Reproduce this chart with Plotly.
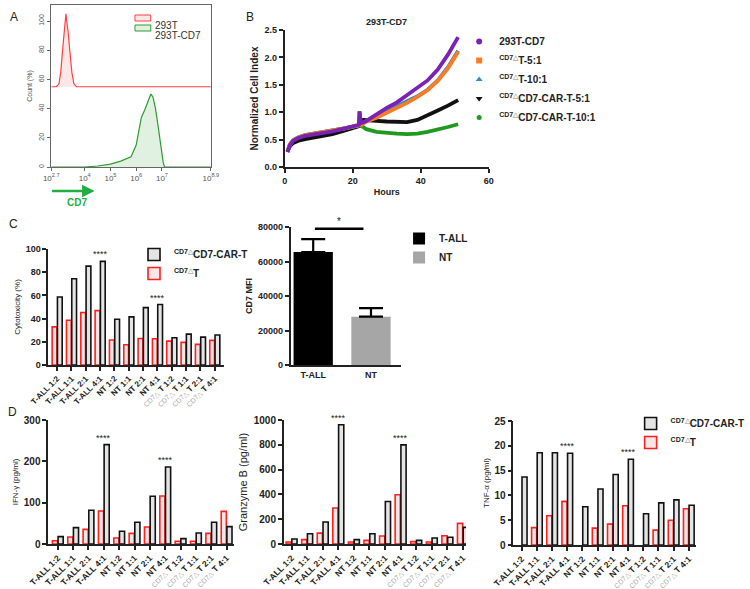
import plotly.graph_objects as go

FONT = "Liberation Sans, Arial, sans-serif"

# ---------------- Panel A: CD7 flow histogram ----------------
hist_293t_log = [2.7, 2.9, 3.0, 3.07, 3.13, 3.2, 3.24, 3.27, 3.3, 3.36, 3.42, 3.5, 3.58, 3.68, 8.9]
hist_293t_count = [55, 55, 57, 65, 78, 95, 102, 105, 100, 92, 80, 65, 57, 55, 55]
hist_cd7_log = [2.7, 4.0, 4.5, 5.0, 5.4, 5.8, 6.0, 6.1, 6.2, 6.33, 6.45, 6.57, 6.65, 6.75, 6.85, 6.95, 7.05, 7.1, 8.9]
hist_cd7_count = [0, 0, 0.7, 2, 4, 7, 15, 24, 34, 39, 44, 50, 48, 40, 28, 14, 3, 0, 0]
a_xtick_exp = [2.7, 4, 5, 6, 7, 8.9]
a_xtick_text = ["10<sup>2.7</sup>", "10<sup>4</sup>", "10<sup>5</sup>", "10<sup>6</sup>",
                "10<sup>7</sup>", "10<sup>8.9</sup>"]
a_ytick = [0, 20, 40, 60, 80, 100]

# ---------------- Panel B: real-time cell index ----------------
hours = [0.8, 1.5, 2.5, 4, 6, 10, 14, 18, 21.8, 22.0, 22.4, 24, 27, 30, 33, 36, 39, 42, 45, 48, 51]
ci_293t_cd7 = [0.27, 0.40, 0.48, 0.53, 0.57, 0.61, 0.65, 0.71, 0.77, 1.01, 0.80, 0.84, 0.97, 1.08, 1.18, 1.32, 1.45, 1.58, 1.78, 2.05, 2.37]
ci_t_5 = [0.28, 0.41, 0.49, 0.54, 0.58, 0.62, 0.66, 0.71, 0.76, 0.77, 0.76, 0.83, 0.90, 0.99, 1.08, 1.17, 1.28, 1.40, 1.57, 1.80, 2.10]
ci_t_10 = [0.28, 0.41, 0.49, 0.54, 0.58, 0.62, 0.66, 0.71, 0.76, 0.77, 0.77, 0.84, 0.93, 1.02, 1.11, 1.19, 1.29, 1.41, 1.58, 1.82, 2.12]
ci_car_5 = [0.28, 0.38, 0.44, 0.48, 0.51, 0.55, 0.60, 0.67, 0.73, 0.75, 0.86, 0.85, 0.84, 0.83, 0.83, 0.82, 0.86, 0.94, 1.03, 1.12, 1.22]
ci_car_10 = [0.28, 0.41, 0.49, 0.54, 0.58, 0.62, 0.66, 0.71, 0.76, 1.02, 0.76, 0.69, 0.64, 0.62, 0.61, 0.60, 0.61, 0.64, 0.68, 0.73, 0.78]
b_names = ["293T-CD7", "T-5:1", "T-10:1", "CD7-CAR-T-5:1", "CD7-CAR-T-10:1"]

# ---------------- Panels C / D: co-culture assays ----------------
ratio_cats = ["T-ALL 1:2", "T-ALL 1:1", "T-ALL 2:1", "T-ALL 4:1",
              "NT 1:2", "NT 1:1", "NT 2:1", "NT 4:1",
              "CD7△ T 1:2", "CD7△ T 1:1", "CD7△ T 2:1", "CD7△ T 4:1"]
cyto_car = [58.6, 74.4, 85.2, 89.3, 39.5, 41.5, 49.5, 52.1, 23.5, 26.6, 24.0, 25.8]
cyto_t = [32.9, 38.6, 45.2, 46.9, 21.5, 17.5, 22.9, 22.6, 20.6, 19.5, 17.8, 21.2]
mfi_groups = ["T-ALL", "NT"]
mfi_mean = [65500, 28000]
mfi_sd = [7500, 5000]
ifn_car = [17.8, 39.5, 81.5, 240.5, 30.7, 52.5, 115.4, 186.4, 12.9, 26.6, 52.5, 42.0]
ifn_t = [8.0, 17.0, 35.5, 80.0, 14.5, 25.8, 41.2, 116.0, 6.5, 6.5, 25.8, 79.0]
gzmb_car = [40, 83, 177, 962, 35, 83, 343, 799, 29, 48, 54, 134]
gzmb_t = [16, 35, 88, 290, 16, 29, 64, 397, 19, 16, 67, 166]
tnf_car = [13.7, 18.6, 18.6, 18.5, 7.7, 11.3, 14.2, 17.3, 6.3, 8.5, 9.1, 8.0]
tnf_t = [None, 3.5, 5.9, 8.8, None, 3.4, 4.2, 7.9, None, 3.0, 5.0, 7.3]
star_cats = ["T-ALL 4:1", "NT 4:1"]

# ---------------- styles ----------------
RED = "#ff1f1f"
T_FILL = "#f7e6e6"
CAR_FILL = "#e4e4e4"
B_COLORS = ["#7b22b4", "#ff7a21", "#2d8fc9", "#111111", "#1f9a1f"]
B_SYMBOLS = ["circle", "square", "triangle-up", "triangle-down", "circle"]
SUP = "<sup>CD7<span style='color:#b0b0b0'>△</span></sup>"
GRAY_CD7 = "<span style='color:#a8a8a8;font-weight:normal;font-size:7px'>CD7△</span>"


def tick_html(c):
    return c.replace("CD7△", GRAY_CD7)


fig = go.Figure()

# Panel A
fig.add_trace(go.Scatter(x=hist_293t_log, y=hist_293t_count, mode="lines",
                         line=dict(color="#ff4040", width=1.2), fill="toself",
                         fillcolor="rgba(255,120,120,0.18)", xaxis="x", yaxis="y",
                         showlegend=False, hoverinfo="skip"))
fig.add_trace(go.Scatter(x=hist_cd7_log, y=hist_cd7_count, mode="lines",
                         line=dict(color="#2f9a2f", width=1.2), fill="tozeroy",
                         fillcolor="rgba(90,180,90,0.18)", xaxis="x", yaxis="y",
                         showlegend=False, hoverinfo="skip"))

# Panel B
b_series = [ci_293t_cd7, ci_t_5, ci_t_10, ci_car_5, ci_car_10]
for idx in [3, 4, 2, 1, 0]:
    fig.add_trace(go.Scatter(x=hours, y=b_series[idx], mode="lines",
                             line=dict(color=B_COLORS[idx], width=3.8),
                             xaxis="x2", yaxis="y2", showlegend=False))
for idx, nm in enumerate(b_names):
    label = nm if idx == 0 else SUP + nm
    fig.add_trace(go.Scatter(x=[None], y=[None], mode="markers", name=label,
                             marker=dict(symbol=B_SYMBOLS[idx], color=B_COLORS[idx],
                                         size=6 if idx != 4 else 5),
                             xaxis="x2", yaxis="y2", legend="legend2"))


def pair(xa, ya, car_vals, t_vals, legend_name=None):
    show = legend_name is not None
    fig.add_trace(go.Bar(x=ratio_cats, y=t_vals, name=SUP + "T",
                         marker=dict(color=T_FILL, line=dict(color=RED, width=1.6)),
                         xaxis=xa, yaxis=ya, showlegend=show,
                         legend=legend_name or "legend", legendrank=2))
    fig.add_trace(go.Bar(x=ratio_cats, y=car_vals, name=SUP + "CD7-CAR-T",
                         marker=dict(color=CAR_FILL, line=dict(color="#111", width=1.6)),
                         xaxis=xa, yaxis=ya, showlegend=show,
                         legend=legend_name or "legend", legendrank=1))


pair("x3", "y3", cyto_car, cyto_t, "legend3")

# Panel C right: MFI
fig.add_trace(go.Bar(x=[mfi_groups[0]], y=[mfi_mean[0]], name="T-ALL",
                     marker=dict(color="#000000", line=dict(width=0)),
                     error_y=dict(type="data", array=[mfi_sd[0]], arrayminus=[0],
                                  symmetric=False, color="#000", thickness=2.2, width=12),
                     offsetgroup="mfi", width=0.68, xaxis="x4", yaxis="y4", legend="legend4"))
fig.add_trace(go.Bar(x=[mfi_groups[1]], y=[mfi_mean[1]], name="NT",
                     marker=dict(color="#a6a6a6", line=dict(width=0)),
                     error_y=dict(type="data", array=[mfi_sd[1]], arrayminus=[0],
                                  symmetric=False, color="#000", thickness=2.2, width=12),
                     offsetgroup="mfi", width=0.68, xaxis="x4", yaxis="y4", legend="legend4"))

pair("x5", "y5", ifn_car, ifn_t)
pair("x6", "y6", gzmb_car, gzmb_t)
pair("x7", "y7", tnf_car, tnf_t, "legend5")


# ---------------- axes ----------------
def ax(domain, anchor, **kw):
    d = dict(domain=domain, anchor=anchor, showline=True, linecolor="#222", linewidth=1.6,
             ticks="outside", ticklen=4, tickwidth=1.5, tickcolor="#222", showgrid=False,
             zeroline=False, fixedrange=True,
             tickfont=dict(family=FONT, size=9, color="#222", weight="bold"))
    d.update(kw)
    return d


def py(top, bottom):
    return [1 - bottom / 589, 1 - top / 589]


def px(left, right):
    return [left / 750, right / 750]


CAT_TICKFONT = dict(family=FONT, size=8, color="#222", weight="bold")
D_TICKFONT = dict(family=FONT, size=8.5, color="#222", weight="bold")

lay = dict(
    width=750, height=589, margin=dict(l=0, r=0, t=0, b=0),
    template="none", paper_bgcolor="white", plot_bgcolor="white",
    font=dict(family=FONT, color="#222"),
    barmode="group", bargap=0.26, bargroupgap=0.1,
)

# A
lay["xaxis"] = ax(px(52, 214), "y", range=[2.7, 8.9], tickvals=a_xtick_exp, ticktext=a_xtick_text,
                  mirror=True, linecolor="#666", linewidth=1, ticklen=3, tickwidth=1, tickcolor="#666",
                  tickfont=dict(family=FONT, size=8, color="#555"))
lay["yaxis"] = ax(py(5, 167), "x", range=[0, 111], tickvals=a_ytick, tickangle=-90,
                  mirror=True, linecolor="#666", linewidth=1, ticklen=3, tickwidth=1, tickcolor="#666",
                  tickfont=dict(family=FONT, size=7, color="#555"),
                  title=dict(text="Count (%)", font=dict(size=7, color="#555"), standoff=4))
# B
lay["xaxis2"] = ax(px(289, 496), "y2", range=[0, 60], tickvals=[0, 20, 40, 60], linewidth=1.8,
                   tickfont=dict(family=FONT, size=9, color="#222", weight="bold"),
                   title=dict(text="<b>Hours</b>", font=dict(size=9), standoff=4))
lay["yaxis2"] = ax(py(30, 167), "x2", range=[0, 2.5], tickvals=[0, 0.5, 1, 1.5, 2, 2.5],
                   tickformat=".1f", linewidth=1.8,
                   title=dict(text="<b>Normalized Cell Index</b>", font=dict(size=10), standoff=4))
# C left
lay["xaxis3"] = ax(px(49, 227), "y3", range=[-0.62, 11.62], tickangle=-45, tickvals=ratio_cats,
                   ticktext=[tick_html(c) for c in ratio_cats], tickfont=CAT_TICKFONT)
lay["yaxis3"] = ax(py(249, 365), "x3", range=[0, 100], tickvals=[0, 20, 40, 60, 80, 100],
                   title=dict(text="Cytotoxicity (%)", font=dict(size=8), standoff=4))
# C right
lay["xaxis4"] = ax(px(295, 407), "y4", range=[-0.39, 1.52], ticks="",
                   tickfont=dict(family=FONT, size=9, color="#222", weight="bold"))
lay["yaxis4"] = ax(py(227, 365), "x4", range=[0, 80000], tickvals=[0, 20000, 40000, 60000, 80000],
                   tickformat="d",
                   title=dict(text="<b>CD7 MFI</b>", font=dict(size=9), standoff=4))
# D
lay["xaxis5"] = ax(px(49, 237), "y5", range=[-0.62, 11.45], tickangle=-45, tickvals=ratio_cats,
                   ticktext=[tick_html(c) for c in ratio_cats], tickfont=D_TICKFONT)
lay["yaxis5"] = ax(py(420, 544), "x5", range=[0, 300], tickvals=[0, 100, 200, 300],
                   tickfont=dict(family=FONT, size=10, color="#222", weight="bold"),
                   title=dict(text="IFN-γ (pg/ml)", font=dict(size=8), standoff=4))
lay["xaxis6"] = ax(px(288, 473), "y6", range=[-0.5, 11.2], tickangle=-45, tickvals=ratio_cats,
                   ticktext=[tick_html(c) for c in ratio_cats], tickfont=D_TICKFONT)
lay["yaxis6"] = ax(py(420, 544), "x6", range=[0, 1000], tickvals=[0, 200, 400, 600, 800, 1000],
                   tickfont=dict(family=FONT, size=10, color="#222", weight="bold"),
                   title=dict(text="Granzyme B (pg/ml)", font=dict(size=11), standoff=4))
lay["xaxis7"] = ax(px(521, 706), "y7", range=[-0.55, 11.45], tickangle=-45, tickvals=ratio_cats,
                   ticktext=[tick_html(c) for c in ratio_cats], tickfont=D_TICKFONT)
lay["yaxis7"] = ax(py(421, 545), "x7", range=[0, 25], tickvals=[0, 5, 10, 15, 20, 25],
                   tickfont=dict(family=FONT, size=10, color="#222", weight="bold"),
                   title=dict(text="TNF-α (pg/ml)", font=dict(size=8), standoff=4))

leg_common = dict(xanchor="left", yanchor="top", bgcolor="rgba(0,0,0,0)", borderwidth=0,
                  tracegroupgap=0, font=dict(family=FONT, size=10, color="#222", weight="bold"))
lay["legend2"] = dict(leg_common, x=466 / 750, y=1 - 27 / 589)
lay["legend3"] = dict(leg_common, x=136 / 750, y=1 - 240 / 589)
lay["legend4"] = dict(leg_common, x=405 / 750, y=1 - 224 / 589)
lay["legend5"] = dict(leg_common, x=640 / 750, y=1 - 409 / 589)
fig.update_layout(**lay)

# ---------------- annotations & shapes ----------------
ann = []
for letter, (lx, ly) in {"A": (8, 8), "B": (254, 8), "C": (7, 224), "D": (6, 421)}.items():
    ann.append(dict(text=letter, x=lx / 750, y=1 - ly / 589, xref="paper", yref="paper",
                    showarrow=False, font=dict(size=12, color="#222")))
ann.append(dict(text="<b>293T-CD7</b>", x=392 / 750, y=1 - 15 / 589, xref="paper", yref="paper",
                showarrow=False, font=dict(size=9)))
# A legend (manual, tight spacing)
shapes = []
for i, (nm, lc, fc) in enumerate([("293T", "#ff4040", "rgba(255,120,120,0.18)"),
                                   ("293T-CD7", "#2f9a2f", "rgba(90,180,90,0.18)")]):
    yc = 18 + 10 * i
    shapes.append(dict(type="rect", xref="paper", yref="paper", x0=137 / 750, x1=153 / 750,
                       y0=1 - (yc + 3) / 589, y1=1 - (yc - 3) / 589,
                       line=dict(color=lc, width=1), fillcolor=fc))
    ann.append(dict(text=nm, x=155 / 750, y=1 - yc / 589, xref="paper", yref="paper",
                    xanchor="left", showarrow=False, font=dict(size=10, color="#333")))
# CD7 arrow
ann.append(dict(text="", x=96 / 750, y=1 - 191 / 589, xref="paper", yref="paper",
                ax=-44, ay=0, showarrow=True, arrowhead=2, arrowsize=1, arrowwidth=2.5,
                arrowcolor="#1fae3f"))
ann.append(dict(text="<b>CD7</b>", x=66 / 750, y=1 - 202 / 589, xref="paper", yref="paper",
                showarrow=False, font=dict(size=10, color="#1fae3f")))
# significance stars
for xa, ya, vals in [("x3", "y3", cyto_car), ("x5", "y5", ifn_car),
                     ("x6", "y6", gzmb_car), ("x7", "y7", tnf_car)]:
    for c in star_cats:
        ann.append(dict(text="****", x=c, y=vals[ratio_cats.index(c)], xref=xa, yref=ya,
                        yanchor="bottom", yshift=0, showarrow=False,
                        font=dict(size=9, color="#222")))
# MFI significance
shapes.append(dict(type="line", xref="x4", yref="y4", x0=0.03, x1=0.87, y0=79000, y1=79000,
                   line=dict(color="#000", width=2.5)))
ann.append(dict(text="*", x=0.45, y=79000, xref="x4", yref="y4", yanchor="bottom",
                showarrow=False, font=dict(size=10, color="#222")))
fig.update_layout(annotations=ann, shapes=shapes)

fig.write_html("out.html", config={"displayModeBar": False},
               post_script="document.body.style.margin='0px';document.body.style.overflow='hidden';")
